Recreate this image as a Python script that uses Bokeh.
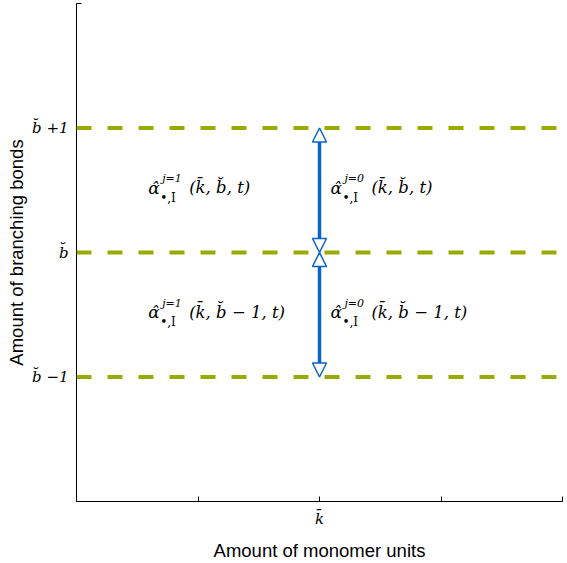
from bokeh.plotting import figure
from bokeh.models import (Span, Arrow, NormalHead, ColumnDataSource, FixedTicker,
                          Range1d)
from bokeh.core.properties import value
from bokeh.embed import file_html
from bokeh.resources import INLINE

# ---- data ----
x_ticks = [0, 1, 2, 3, 4]
x_tick_labels = ["", "", "k\u0304", "", ""]
y_ticks = [0, 1, 2, 3, 4]
y_tick_labels = ["", "b\u0306 \u22121", "b\u0306", "b\u0306 +1", ""]
levels = [1, 2, 3]
arrow_x = [2, 2]
arrow_y0 = [2, 1]
arrow_y1 = [3, 2]
label_x = [0.59, 2.09, 0.59, 2.09]
label_y = [2.52, 2.52, 1.52, 1.52]
label_sup = ["j=1", "j=0", "j=1", "j=0"]
label_args = ["(k\u0304, b\u0306, t)", "(k\u0304, b\u0306, t)",
              "(k\u0304, b\u0306 \u2212 1, t)", "(k\u0304, b\u0306 \u2212 1, t)"]

OLIVE = "#99aa00"
BLUE = "#0a64c8"
SERIF = "DejaVu Serif"

p = figure(width=567, height=563, output_backend="svg", toolbar_location=None,
           x_range=Range1d(0, 4), y_range=Range1d(0, 4),
           min_border_left=76, min_border_bottom=60, min_border_top=3,
           min_border_right=5)
p.outline_line_color = None
p.xgrid.visible = False
p.ygrid.visible = False
p.background_fill_color = "white"
p.border_fill_color = "white"

for ax in (p.xaxis[0], p.yaxis[0]):
    ax.major_tick_in = 5
    ax.major_tick_out = 0
    ax.minor_tick_line_color = None
    ax.axis_line_color = "black"
    ax.axis_line_width = 1
    ax.major_label_text_font = SERIF
    ax.major_label_text_font_style = "italic"
    ax.major_label_text_font_size = "15px"
    ax.axis_label_text_font = "Liberation Sans"
    ax.axis_label_text_font_style = "normal"
    ax.axis_label_text_font_size = "18.5px"
    ax.axis_label_text_color = "black"
    ax.major_label_text_color = "black"

p.xaxis[0].ticker = FixedTicker(ticks=x_ticks)
p.xaxis[0].major_label_overrides = {t: l for t, l in zip(x_ticks, x_tick_labels)}
p.yaxis[0].ticker = FixedTicker(ticks=y_ticks)
p.yaxis[0].major_label_overrides = {t: l for t, l in zip(y_ticks, y_tick_labels)}
p.xaxis[0].axis_label = "Amount of monomer units"
p.yaxis[0].axis_label = "Amount of branching bonds"
p.xaxis[0].major_label_standoff = 8
p.xaxis[0].axis_label_standoff = 9
p.yaxis[0].major_label_standoff = 8
p.yaxis[0].axis_label_standoff = 2

# dashed level lines
for lv in levels:
    p.add_layout(Span(location=lv, dimension="width", line_color=OLIVE,
                      line_width=4, line_dash="15 16"))

# double-headed arrows
src = ColumnDataSource(dict(x0=arrow_x, y0=arrow_y0, x1=arrow_x, y1=arrow_y1))
p.add_layout(Arrow(source=src, x_start="x0", y_start="y0", x_end="x1", y_end="y1",
                   line_color=BLUE, line_width=3.5,
                   start=NormalHead(size=14, fill_color="white", line_color=BLUE, line_width=1.5),
                   end=NormalHead(size=14, fill_color="white", line_color=BLUE, line_width=1.5)))

# labels
lsrc = ColumnDataSource(dict(x=label_x, y=label_y, sup=label_sup, args=label_args,
                             alpha=["\u03b1\u0302"] * 4, sub=["\u2022,I"] * 4))
p.text(x="x", y="y", text="alpha", source=lsrc, text_font=value(SERIF),
       text_font_style="italic", text_font_size="17px", text_baseline="middle",
       text_color="black")
p.text(x="x", y="y", text="sup", source=lsrc, text_font=value(SERIF),
       text_font_style="italic", text_font_size="11px", text_baseline="middle",
       x_offset=14, y_offset=-9, text_color="black")
p.text(x="x", y="y", text="sub", source=lsrc, text_font=value(SERIF),
       text_font_size="12px", text_baseline="middle",
       x_offset=12, y_offset=10, text_color="black")
p.text(x="x", y="y", text="args", source=lsrc, text_font=value(SERIF),
       text_font_style="italic", text_font_size="16.5px", text_baseline="middle",
       x_offset=41, y_offset=0, text_color="black")

open("out.html", "w").write(file_html(p, INLINE))
